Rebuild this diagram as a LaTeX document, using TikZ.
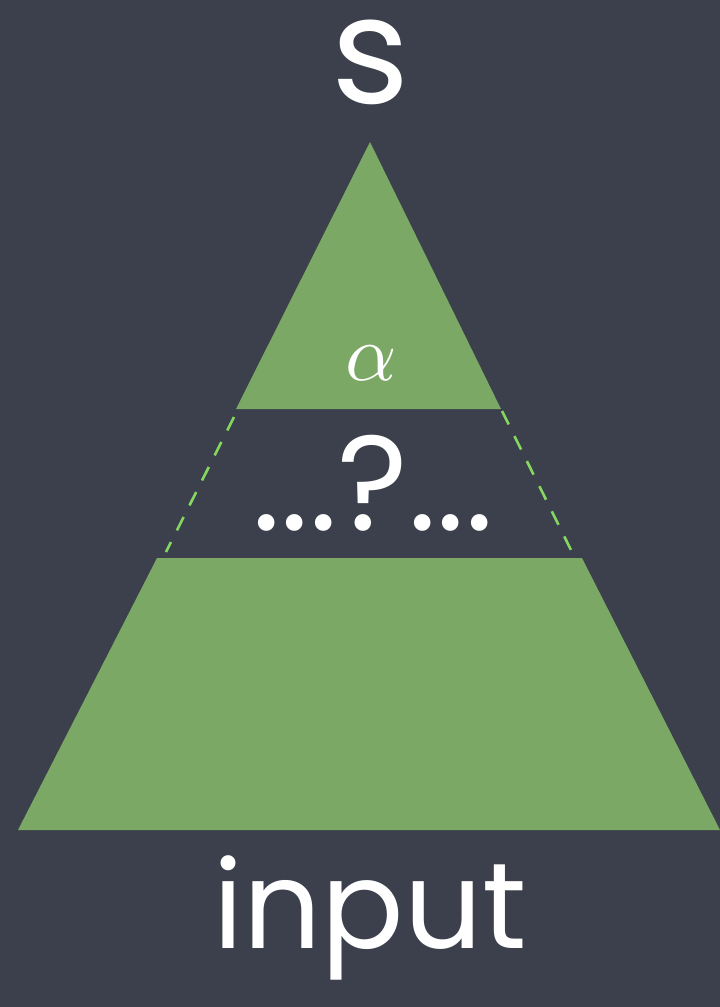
\documentclass[tikz,border=0pt]{standalone}
\usepackage{fontspec}
\newfontfamily\chalk{Poppins}
\usetikzlibrary{calc}
\definecolor{board}{HTML}{3B404C}
\definecolor{leaf}{HTML}{7BA864}
\definecolor{dashgreen}{HTML}{86D760}
\tikzset{
  chalktext/.style={text=white, inner sep=0pt, font=\chalk},
  greenfill/.style={fill=leaf, draw=none},
  guide/.style={draw=dashgreen, line width=2.6pt, dash pattern=on 15pt off 13pt}
}
\begin{document}
\begin{tikzpicture}[x=1pt,y=-1pt]
\fill[board] (0,0) rectangle (720,1007);
\useasboundingbox (0,0) rectangle (720,1007);
% top triangle
\coordinate (apex) at (370,142);
\coordinate (tl) at (236,409);
\coordinate (tr) at (501,409);
\fill[greenfill] (apex) -- (tr) -- (tl) -- cycle;
% trapezoid
\coordinate (bl1) at (157,558);
\coordinate (br1) at (582,558);
\coordinate (bl2) at (18,830);
\coordinate (br2) at (720,830);
\fill[greenfill] (bl1) -- (br1) -- (br2) -- (bl2) -- cycle;
% dashed guides
\coordinate (dl) at (166,552);
\coordinate (dr) at (573,554);
\draw[guide] ($(tl)+(-2,8)$) -- (dl);
\draw[guide] ($(tr)+(1,2)$) -- (dr);
% labels
\node[chalktext, font=\chalk\fontsize{150}{150}\selectfont] (s) at (371,62) {s};
\node[text=white, inner sep=0pt] (alpha) at (371,363) {\scalebox{8}{$\alpha$}};
\node[chalktext, font=\chalk\fontsize{135}{135}\selectfont, anchor=base] (q) at (373,530) {...?...};
\node[chalktext, font=\chalk\fontsize{122}{122}\selectfont, anchor=base] (input) at (370,948) {input};
\end{tikzpicture}
\end{document}
